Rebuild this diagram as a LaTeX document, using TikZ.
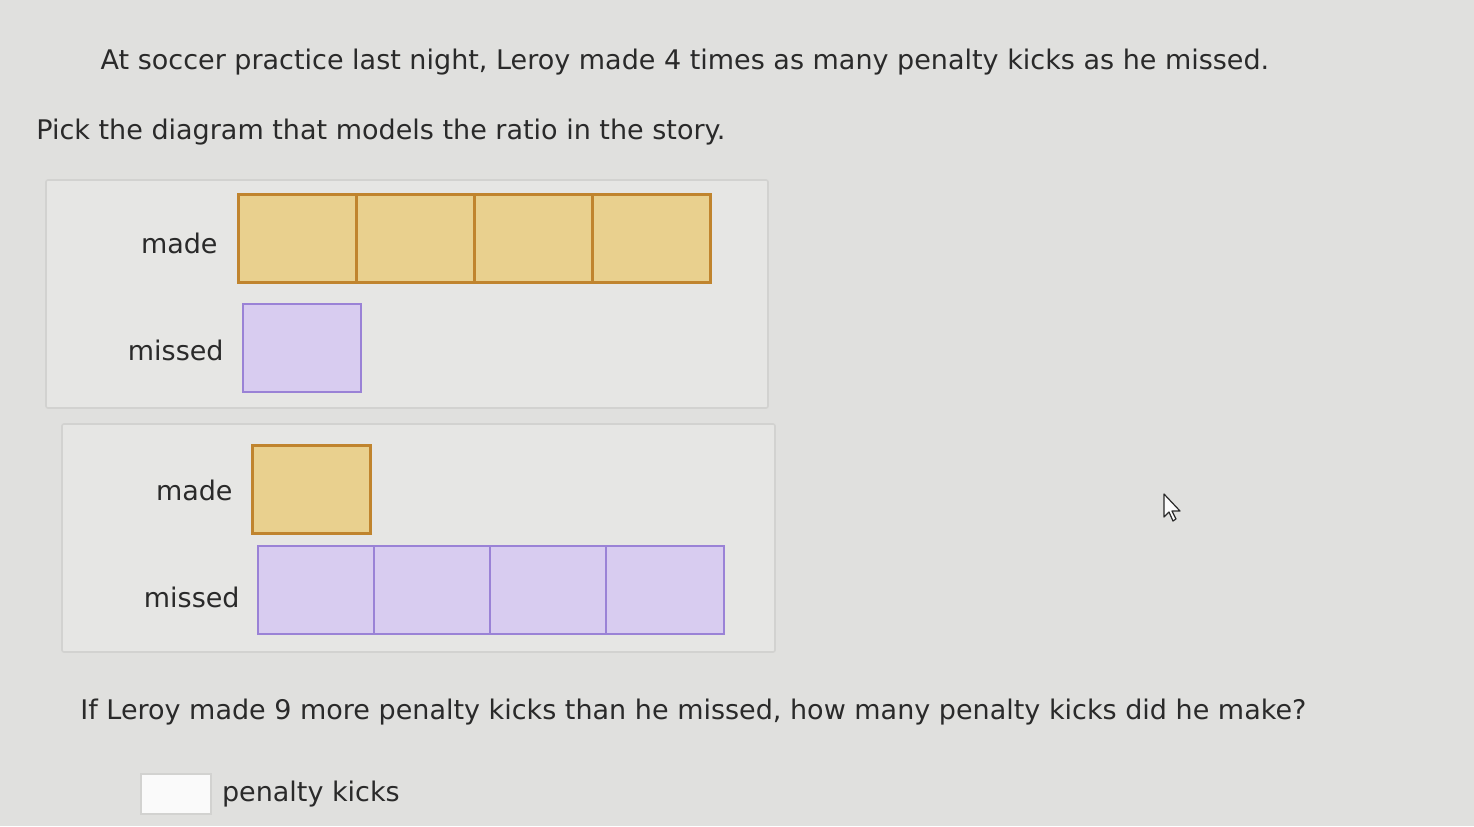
\documentclass[tikz,border=0pt]{standalone}
\usepackage{fontspec}
\setmainfont{DejaVu Sans}
\definecolor{screen}{HTML}{E0E0DE}
\definecolor{panelline}{HTML}{D2D2D0}
\definecolor{panelfill}{HTML}{E6E6E4}
\definecolor{madefill}{HTML}{E9D08E}
\definecolor{madeline}{HTML}{C0842E}
\definecolor{missfill}{HTML}{D8CCF0}
\definecolor{missline}{HTML}{9A82D6}
\definecolor{inktext}{HTML}{2A2A2A}
\tikzset{
  madebox/.style={draw=madeline, fill=madefill, line width=1.3pt, minimum width=59pt, minimum height=44pt, inner sep=0pt, anchor=north west},
  missbox/.style={draw=missline, fill=missfill, line width=1.1pt, minimum width=59pt, minimum height=44pt, inner sep=0pt, anchor=north west},
  panel/.style={draw=panelline, fill=panelfill, line width=0.8pt, rounded corners=1pt},
  txt/.style={text=inktext, font=\fontsize{13.5}{16}\selectfont, inner sep=0pt}
}
\begin{document}
\begin{tikzpicture}[x=0.5pt, y=-0.5pt]
    \fill [screen] (0,0) rectangle (1474,826);
    \useasboundingbox (0,0) rectangle (1474,826);
    % question text
    \node [txt] (story) at (685,62) {At soccer practice last night, Leroy made 4 times as many penalty kicks as he missed.};
    \node [txt, anchor=west] (pick) at (36,132) {Pick the diagram that models the ratio in the story.};
    % first choice
    \draw [panel] (46,180) rectangle (768,408);
    \node [txt, anchor=east] (madeA) at (218,243) {made};
    \foreach \i in {0,...,3}
        \node [madebox] (madeA\i) at ({237+118*\i},193) {};
    \node [txt, anchor=east] (missA) at (224,350) {missed};
    \node [missbox] (missA0) at (242,303) {};
    % second choice
    \draw [panel] (62,424) rectangle (775,652);
    \node [txt, anchor=east] (madeB) at (233,490) {made};
    \node [madebox] (madeB0) at (251,444) {};
    \node [txt, anchor=east] (missB) at (240,597) {missed};
    \foreach \i in {0,...,3}
        \node [missbox] (missB\i) at ({257+116*\i},545) {};
    % follow-up
    \node [txt, anchor=west] (ask) at (80,712) {If Leroy made 9 more penalty kicks than he missed, how many penalty kicks did he make?};
    \node [draw=panelline, fill=white!85!screen, line width=0.8pt, minimum width=35pt, minimum height=20pt, inner sep=0pt, anchor=north west] (answer) at (140,773) {};
    \node [txt, anchor=west] (unit) at ([xshift=5pt]answer.east) {penalty kicks};
    % mouse pointer
    \draw [fill=white!90!screen, draw=inktext, line width=0.6pt, line join=round]
        (1164,494) -- (1164,517) -- (1169,512) -- (1173,521) -- (1176,519) -- (1172,511) -- (1180,511) -- cycle;
\end{tikzpicture}
\end{document}
